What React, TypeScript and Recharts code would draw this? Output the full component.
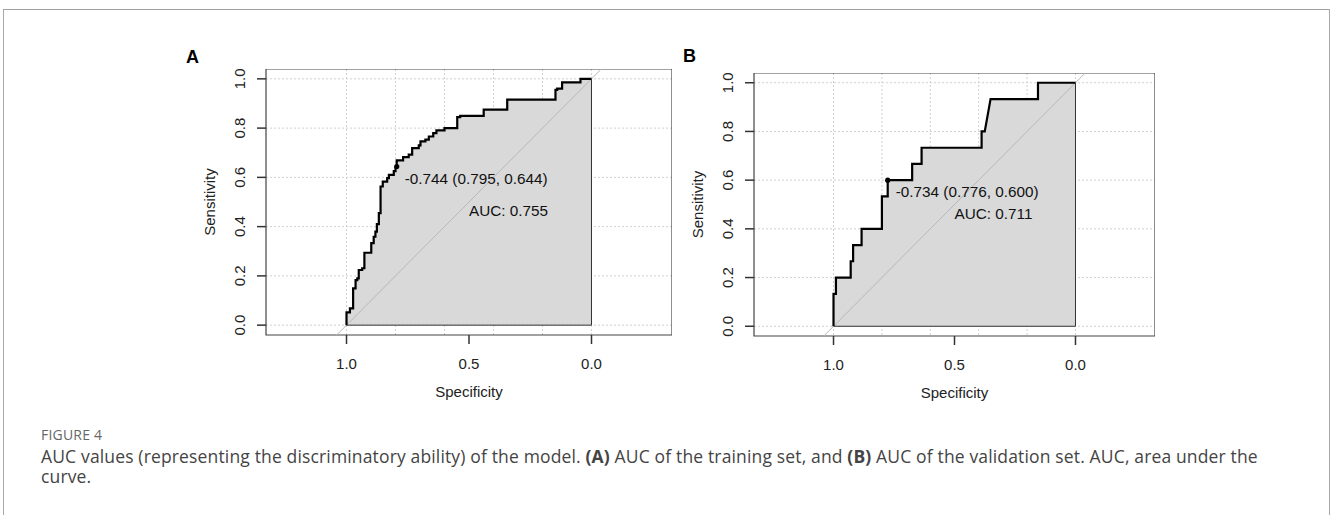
import React from 'react';
import {
  ComposedChart,
  XAxis,
  YAxis,
  CartesianGrid,
  Area,
  Line,
  Scatter,
  ReferenceArea,
} from 'recharts';

// ---------- data ----------
const specTicks = [1, 0.5, 0];
const sensTicks = [0, 0.2, 0.4, 0.6, 0.8, 1];
const gridSpec = [1, 0.8, 0.6, 0.4, 0.2, 0];
const gridSens = [0, 0.2, 0.4, 0.6, 0.8, 1];

// training set ROC (specificity, sensitivity)
const rocTrainSpec = [
  1, 1, 0.986, 0.986, 0.973, 0.973, 0.963, 0.963, 0.956, 0.956, 0.95, 0.95, 0.936, 0.936, 0.927, 0.927,
  0.899, 0.899, 0.889, 0.889, 0.882, 0.882, 0.876, 0.876, 0.868, 0.868, 0.861, 0.861, 0.852, 0.852,
  0.834, 0.834, 0.827, 0.827, 0.807, 0.807, 0.8, 0.8, 0.795, 0.795, 0.769, 0.769, 0.746, 0.746, 0.732,
  0.732, 0.705, 0.705, 0.698, 0.698, 0.678, 0.678, 0.664, 0.664, 0.646, 0.646, 0.633, 0.633, 0.6, 0.6,
  0.548, 0.548, 0.536, 0.536, 0.44, 0.44, 0.344, 0.344, 0.147, 0.147, 0.14, 0.14, 0.12, 0.12, 0.045,
  0.045, 0,
];
const rocTrainSens = [
  0, 0.052, 0.052, 0.068, 0.068, 0.149, 0.149, 0.183, 0.183, 0.19, 0.19, 0.224, 0.224, 0.231, 0.231, 0.294,
  0.294, 0.333, 0.333, 0.359, 0.359, 0.38, 0.38, 0.41, 0.41, 0.455, 0.455, 0.563, 0.563, 0.583,
  0.583, 0.597, 0.597, 0.61, 0.61, 0.625, 0.625, 0.638, 0.638, 0.669, 0.669, 0.682, 0.682, 0.692, 0.692,
  0.719, 0.719, 0.73, 0.73, 0.746, 0.746, 0.753, 0.753, 0.766, 0.766, 0.78, 0.78, 0.791, 0.791, 0.8,
  0.8, 0.845, 0.845, 0.85, 0.85, 0.875, 0.875, 0.916, 0.916, 0.955, 0.955, 0.96, 0.96, 0.986, 0.986,
  1, 1,
];

// validation set ROC (specificity, sensitivity)
const rocValidSpec = [
  1, 1, 0.99, 0.99, 0.929, 0.929, 0.919, 0.919, 0.884, 0.884, 0.8, 0.8, 0.776, 0.776, 0.675, 0.675,
  0.636, 0.636, 0.388, 0.388, 0.375, 0.351, 0.155, 0.155, 0,
];
const rocValidSens = [
  0, 0.133, 0.133, 0.2, 0.2, 0.267, 0.267, 0.333, 0.333, 0.4, 0.4, 0.533, 0.533, 0.6, 0.6, 0.667,
  0.667, 0.733, 0.733, 0.8, 0.8, 0.933, 0.933, 1, 1,
];

const thresholdTrain = { spec: 0.795, sens: 0.644, label: '-0.744 (0.795, 0.644)' };
const thresholdValid = { spec: 0.776, sens: 0.6, label: '-0.734 (0.776, 0.600)' };
const aucTrain = { spec: 0.5, sens: 0.5, label: 'AUC: 0.755' };
const aucValid = { spec: 0.5, sens: 0.5, label: 'AUC: 0.711' };

// chance diagonal, spanning the plotting box
const chanceSpec = [1.04, -0.04];
const chanceSens = [-0.04, 1.04];

const X_DOMAIN: [number, number] = [-0.3286, 1.3286];
const Y_DOMAIN: [number, number] = [-0.04, 1.04];

const R_FONT = '"Liberation Sans", Arial, sans-serif';
const CAP_FONT = '"Open Sans", "Noto Sans", sans-serif';

type Pt = { spec: number; sens: number; label?: string };
const zipPts = (s: number[], t: number[]): Pt[] => s.map((v, i) => ({ spec: v, sens: t[i] }));

const YTick = (props: any) => {
  const { x, y, payload } = props;
  const bx = x - 10;
  return (
    <text
      x={bx}
      y={y}
      transform={`rotate(-90, ${bx}, ${y})`}
      textAnchor="middle"
      fill="#222"
      fontSize={15}
      fontFamily={R_FONT}
    >
      {Number(payload.value).toFixed(1)}
    </text>
  );
};

const ThresholdShape = (p: any) => (
  <g>
    <circle cx={p.cx} cy={p.cy} r={2.6} fill="#000" />
    <text x={p.cx + 8} y={p.cy + 17} fill="#111" fontSize={15.3} fontFamily={R_FONT}>
      {p.payload.label}
    </text>
  </g>
);

const AucShape = (p: any) => (
  <text x={p.cx} y={p.cy + 14} fill="#111" fontSize={15.3} fontFamily={R_FONT}>
    {p.payload.label}
  </text>
);

const YTitle = (props: any) => {
  const vb = props.viewBox || { x: 0, y: 0, width: 100, height: 266 };
  const bx = vb.x + vb.width - 51;
  const cy = vb.y + vb.height / 2;
  return (
    <text
      x={bx}
      y={cy}
      transform={`rotate(-90, ${bx}, ${cy})`}
      textAnchor="middle"
      fill="#222"
      fontSize={15}
      fontFamily={R_FONT}
    >
      Sensitivity
    </text>
  );
};

const XTitle = (props: any) => {
  const vb = props.viewBox || { x: 0, y: 0, width: 400, height: 80 };
  return (
    <text
      x={vb.x + vb.width / 2}
      y={vb.y + 62}
      textAnchor="middle"
      fill="#222"
      fontSize={15}
      fontFamily={R_FONT}
    >
      Specificity
    </text>
  );
};

type PanelProps = {
  left: number;
  top: number;
  plotW: number;
  plotH: number;
  specs: number[];
  senss: number[];
  threshold: Pt;
  auc: Pt;
};

const Panel = ({ left, top, plotW, plotH, specs, senss, threshold, auc }: PanelProps) => {
  const roc = zipPts(specs, senss);
  const first = roc[0];
  const last = roc[roc.length - 1];
  const edges: Pt[] = [
    { spec: last.spec, sens: last.sens },
    { spec: last.spec, sens: first.sens },
    { spec: first.spec, sens: first.sens },
  ];
  const chance = zipPts(chanceSpec, chanceSens);
  const yW = 100;
  const xH = 80;
  return (
    <div style={{ position: 'absolute', left, top }}>
      <ComposedChart
        width={yW + plotW}
        height={plotH + xH}
        margin={{ top: 0, right: 0, bottom: 0, left: 0 }}
      >
        <CartesianGrid
          stroke="#d0d0d0"
          strokeDasharray="2 2"
          verticalValues={gridSpec}
          horizontalValues={gridSens}
        />
        <XAxis
          type="number"
          dataKey="spec"
          domain={X_DOMAIN}
          allowDataOverflow
          reversed
          ticks={specTicks}
          interval={0}
          tickFormatter={(v: number) => v.toFixed(1)}
          height={xH}
          tickSize={9}
          tickMargin={14}
          axisLine={false}
          tickLine={{ stroke: '#333', strokeWidth: 1.5 }}
          tick={{ fill: '#222', fontSize: 15, fontFamily: R_FONT }}
          label={{ content: XTitle }}
        />
        <YAxis
          type="number"
          dataKey="sens"
          domain={Y_DOMAIN}
          allowDataOverflow
          ticks={sensTicks}
          interval={0}
          width={yW}
          tickSize={9}
          tickMargin={2}
          axisLine={false}
          tickLine={{ stroke: '#333', strokeWidth: 1.5 }}
          tick={<YTick />}
          label={{ content: YTitle }}
        />
        <Area
          data={roc}
          dataKey="sens"
          type="linear"
          fill="#d9d9d9"
          fillOpacity={1}
          stroke="none"
          isAnimationActive={false}
          activeDot={false}
        />
        <Line
          data={edges}
          dataKey="sens"
          type="linear"
          stroke="#333"
          strokeWidth={1}
          dot={false}
          activeDot={false}
          isAnimationActive={false}
        />
        <Line
          data={chance}
          dataKey="sens"
          type="linear"
          stroke="#b8b8b8"
          strokeWidth={1}
          dot={false}
          activeDot={false}
          isAnimationActive={false}
        />
        <Line
          data={roc}
          dataKey="sens"
          type="linear"
          stroke="#000"
          strokeWidth={2.2}
          dot={false}
          activeDot={false}
          isAnimationActive={false}
        />
        <Scatter data={[threshold]} dataKey="sens" shape={ThresholdShape} isAnimationActive={false} />
        <Scatter data={[auc]} dataKey="sens" shape={AucShape} isAnimationActive={false} />
        <ReferenceArea
          x1={X_DOMAIN[0]}
          x2={X_DOMAIN[1]}
          y1={Y_DOMAIN[0]}
          y2={Y_DOMAIN[1]}
          fill="none"
          fillOpacity={0}
          stroke="#444"
          strokeWidth={1.2}
          ifOverflow="visible"
        />
      </ComposedChart>
    </div>
  );
};

const captionLine: React.CSSProperties = {
  position: 'absolute',
  left: 41,
  fontFamily: CAP_FONT,
  fontSize: 17.5,
  letterSpacing: 0.15,
  color: '#444',
  lineHeight: '20px',
  whiteSpace: 'nowrap',
};

export default function App() {
  return (
    <div
      style={{
        position: 'absolute',
        left: 0,
        top: 0,
        width: 1330,
        height: 515,
        background: '#fff',
        overflow: 'hidden',
      }}
    >
      <div
        style={{
          position: 'absolute',
          left: 3,
          top: 9,
          width: 1325,
          height: 540,
          borderTop: '1px solid #a0a0a0',
          borderLeft: '1px solid #a8a8a8',
          borderRight: '1px solid #a8a8a8',
        }}
      />
      <div
        style={{
          position: 'absolute',
          left: 186,
          top: 46,
          fontFamily: R_FONT,
          fontWeight: 'bold',
          fontSize: 18,
          color: '#000',
          lineHeight: '22px',
        }}
      >
        A
      </div>
      <div
        style={{
          position: 'absolute',
          left: 683,
          top: 45,
          fontFamily: R_FONT,
          fontWeight: 'bold',
          fontSize: 18,
          color: '#000',
          lineHeight: '22px',
        }}
      >
        B
      </div>
      <Panel
        left={166}
        top={69}
        plotW={406}
        plotH={266}
        specs={rocTrainSpec}
        senss={rocTrainSens}
        threshold={thresholdTrain}
        auc={aucTrain}
      />
      <Panel
        left={654}
        top={73}
        plotW={401}
        plotH={263}
        specs={rocValidSpec}
        senss={rocValidSens}
        threshold={thresholdValid}
        auc={aucValid}
      />
      <div
        style={{
          position: 'absolute',
          left: 41,
          top: 426,
          fontFamily: CAP_FONT,
          fontSize: 14,
          letterSpacing: 0.2,
          color: '#666',
          lineHeight: '18px',
          whiteSpace: 'nowrap',
        }}
      >
        FIGURE 4
      </div>
      <div style={{ ...captionLine, top: 446 }}>
        AUC values (representing the discriminatory ability) of the model. <b>(A)</b> AUC of the training set, and{' '}
        <b>(B)</b> AUC of the validation set. AUC, area under the
      </div>
      <div style={{ ...captionLine, top: 466 }}>curve.</div>
    </div>
  );
}
